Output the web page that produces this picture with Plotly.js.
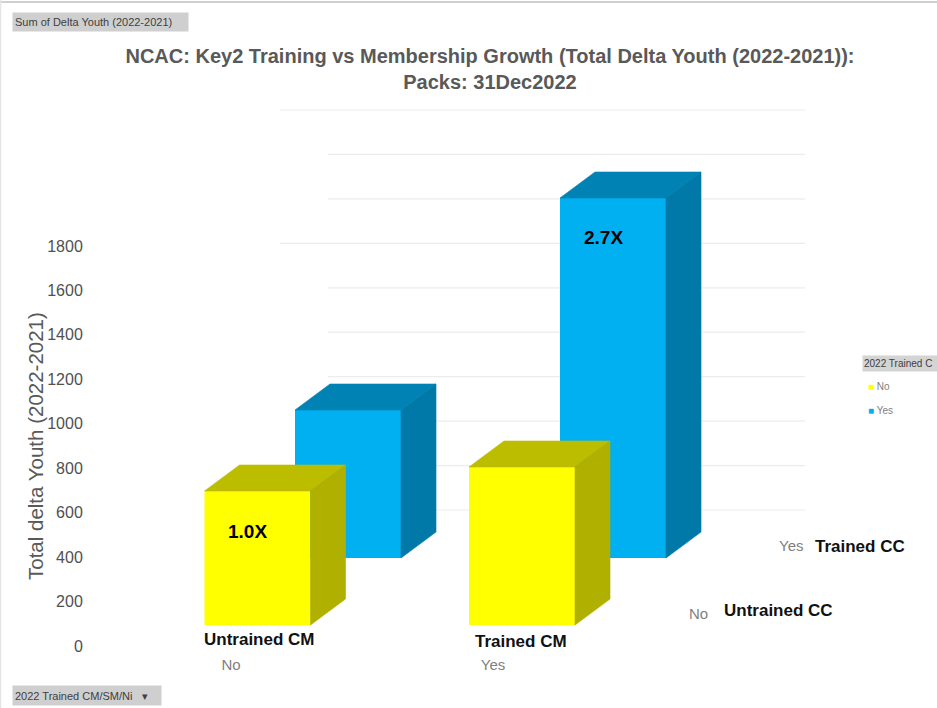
<!DOCTYPE html>
<html>
<head>
<meta charset="utf-8">
<script src="https://cdn.plot.ly/plotly-3.0.1.min.js"></script>
<style>html,body{margin:0;padding:0;background:#fff;overflow:hidden}#chart{width:937px;height:708px}</style>
</head>
<body>
<div id="chart"></div>
<script>
// ---- data ----
const cmCategories = ['No', 'Yes'];
const ccCategories = ['No', 'Yes'];
const untrainedCC = [603, 711];     // yellow
const trainedCC = [666, 1620];      // blue
const yTicks = [0, 200, 400, 600, 800, 1000, 1200, 1400, 1600, 1800];
const wallGrid = [200, 400, 600, 800, 1000, 1200, 1400, 1600, 1800, 2000];
const multipliers = ['1.0X', '2.7X'];

// ---- chart frame (pixels) ----
const W = 937, H = 708, L = 90, T = 100, B = 62;
const unitsPerPx = 4.5;
const yMax = (H - B - T) * unitsPerPx;
const px = x => (x - L) / (W - L);
const py = y => (H - B - y) / (H - B - T);

// ---- pseudo-3D projection ----
const barW = 106;
const depthX = 35, depthY = 26 * unitsPerPx;
const frontBase = 94.5;    // yellow row, nearer the viewer
const rearBase = 396;      // blue row
const wallBase = 412;      // back wall floor offset of the grid
const frontCentres = [257.5, 522];
const rearCentres = [348, 613];
const wallX = [328, 805];

const COLORS = {
  yellow: '#ffff00', yellowDark: '#b0b000', yellowTop: '#bdbd00',
  blue: '#00b0f0', blueDark: '#0079a8', blueTop: '#0083b4'
};

function faces(centres, values, base, topColor, sideColor) {
  const out = [];
  centres.forEach((c, i) => {
    const l = c - barW / 2, r = c + barW / 2, top = base + values[i];
    out.push({
      type: 'scatter', mode: 'lines', fill: 'toself', fillcolor: topColor,
      line: {width: 0.6, color: topColor}, hoverinfo: 'skip', showlegend: false,
      x: [l, l + depthX, r + depthX, r, l],
      y: [top, top + depthY, top + depthY, top, top]
    });
    out.push({
      type: 'scatter', mode: 'lines', fill: 'toself', fillcolor: sideColor,
      line: {width: 0.6, color: sideColor}, hoverinfo: 'skip', showlegend: false,
      x: [r, r + depthX, r + depthX, r, r],
      y: [base, base + depthY, top + depthY, top, base]
    });
  });
  return out;
}

const bar = (name, centres, values, base, color) => ({
  type: 'bar', name, x: centres, y: values, base, width: barW,
  marker: {color, line: {width: 0}}, showlegend: false,
  hovertemplate: name + ': %{y}<extra></extra>'
});

const traces = [
  bar('Yes', rearCentres, trainedCC, rearBase, COLORS.blue),
  bar('No', frontCentres, untrainedCC, frontBase, COLORS.yellow),
  ...faces(rearCentres, trainedCC, rearBase, COLORS.blueTop, COLORS.blueDark),
  ...faces(frontCentres, untrainedCC, frontBase, COLORS.yellowTop, COLORS.yellowDark)
];

const gridShapes = wallGrid.map(v => ({
  type: 'line', layer: 'below', xref: 'x', yref: 'y',
  x0: v === 2000 || v === 1400 ? 280 : wallX[0], x1: wallX[1],
  y0: v + wallBase, y1: v + wallBase,
  line: {color: '#ececec', width: 1.2}
}));

const FONT = 'Liberation Sans, Arial, sans-serif';
const note = (text, x, y, size, color, bold, extra) => Object.assign({
  text: bold ? '<b>' + text + '</b>' : text,
  xref: 'paper', yref: 'paper', x: px(x), y: py(y),
  xanchor: 'center', yanchor: 'middle', showarrow: false,
  font: {family: FONT, size, color}
}, extra || {});

const annotations = [
  note('Total delta Youth (2022-2021)', 35, 446, 20.5, '#595959', false, {textangle: -90}),
  note(multipliers[0], 247, 531, 19, '#000', true),
  note(multipliers[1], 603, 237, 19, '#000', true),
  note('Untrained CM', 259.5, 639, 17, '#111', true),
  note('Trained CM', 520.5, 641, 17, '#111', true),
  note('Untrained CC', 778.5, 610, 17, '#111', true),
  note('Trained CC', 860, 546, 17, '#111', true),
  note(ccCategories[0], 698, 613, 15, '#7f7f7f', false),
  note(ccCategories[1], 791, 545, 15, '#7f7f7f', false),
  note('Sum of Delta Youth (2022-2021)', 12, 22, 11, '#404040', false,
    {xanchor: 'left', align: 'left', width: 171, height: 14, bgcolor: '#cfcfcf', borderpad: 2}),
  note('2022 Trained CM/SM/Ni &nbsp;&nbsp;▾', 12, 695, 11, '#404040', false,
    {xanchor: 'left', align: 'left', width: 144, height: 15, bgcolor: '#cfcfcf', borderpad: 2}),
  note('2022 Trained C', 862, 364, 10, '#404040', false,
    {xanchor: 'left', align: 'left', width: 73, height: 13, bgcolor: '#d4d4d4', borderpad: 1}),
  note('<span style="color:#ffff00">■</span> No', 866, 386, 10, '#808080', false, {xanchor: 'left'}),
  note('<span style="color:#00b0f0">■</span> Yes', 866, 410, 10, '#808080', false, {xanchor: 'left'})
];

const frameShapes = [
  {type: 'line', xref: 'paper', yref: 'paper', x0: px(0), x1: px(W), y0: py(2), y1: py(2),
   line: {color: '#d0d0d0', width: 2}},
  {type: 'line', xref: 'paper', yref: 'paper', x0: px(0.5), x1: px(0.5), y0: py(0), y1: py(H),
   line: {color: '#e4e4e4', width: 1.5}}
];

const layout = {
  width: W, height: H,
  paper_bgcolor: '#fff', plot_bgcolor: '#fff',
  margin: {l: L, r: 0, t: T, b: B, pad: 0},
  showlegend: false,
  barmode: 'overlay',
  title: {
    text: 'NCAC: Key2 Training vs Membership Growth (Total Delta Youth (2022-2021)):<br>Packs: 31Dec2022',
    font: {family: FONT, size: 20, color: '#595959', weight: 'bold'},
    xref: 'container', yref: 'container', x: 490 / W, xanchor: 'center',
    y: 1 - 63 / H, yanchor: 'top'
  },
  xaxis: {
    range: [L, W], showgrid: false, zeroline: false, showline: false,
    tickmode: 'array', tickvals: [231, 493], ticktext: cmCategories,
    ticks: 'outside', ticklen: 5, tickcolor: 'rgba(0,0,0,0)',
    tickfont: {family: FONT, size: 15, color: '#7f7f7f'}
  },
  yaxis: {
    range: [0, yMax], showgrid: false, zeroline: false, showline: false,
    tickmode: 'array', tickvals: yTicks,
    ticks: 'outside', ticklen: 3, tickcolor: 'rgba(0,0,0,0)',
    tickfont: {family: FONT, size: 16, color: '#505050'}
  },
  shapes: gridShapes.concat(frameShapes),
  annotations
};

Plotly.newPlot('chart', traces, layout, {displayModeBar: false, staticPlot: true});
</script>
</body>
</html>
